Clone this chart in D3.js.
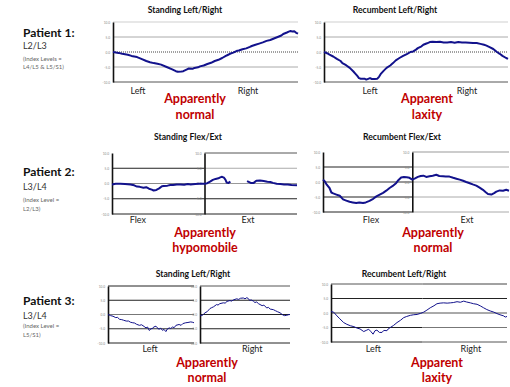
<!DOCTYPE html>
<html>
<head>
<meta charset="utf-8">
<script src="https://cdn.jsdelivr.net/npm/d3@7/dist/d3.min.js"></script>
<style>
  body { margin: 0; background: #fff; }
  svg { display: block; font-family: Lato, "Open Sans", sans-serif; }
</style>
</head>
<body>
<svg id="chart" width="510" height="387"></svg>
<script>
// y ticks shared by every trace plot
const yTicks = [10, 5, 0, -5, -10];
const yTickLabels = ['10.0', '5.0', '0.0', '-5.0', '-10.0'];

// traces: [time %, rotation]
const p1Standing = [[0,0],[3,-0.3],[5,-0.6],[8,-0.9],[10,-1.3],[13,-1.7],[15,-2.2],[18,-3.0],[20,-3.4],[22,-3.7],[24,-3.9],[26,-4.2],[29,-5.0],[32,-5.8],[34,-6.4],[35,-6.6],[37,-6.5],[38,-6.4],[40,-5.8],[41,-5.5],[43,-5.6],[44,-5.3],[46,-5.1],[47,-4.8],[49,-4.5],[51,-4.0],[53,-3.6],[55,-3.0],[57,-2.6],[59,-2.0],[61,-1.3],[62,-1.0],[64,-0.4],[65,-0.2],[67,0.4],[68,0.5],[70,0.9],[72,1.2],[74,1.7],[75,2.0],[77,2.4],[79,2.8],[81,3.2],[83,3.7],[85,4.0],[87,4.5],[89,5.0],[91,5.5],[92,6.0],[94,6.5],[95,6.8],[96,7.0],[97,6.8],[98,6.9],[99,6.4],[100,6.1]];
const p1Recumbent = [[0,0],[2,-0.5],[3,-0.9],[5,-1.5],[7,-2.3],[9,-3.0],[10,-3.7],[12,-4.4],[14,-5.3],[16,-6.5],[17,-7.2],[18,-7.9],[19,-8.7],[20,-8.9],[22,-8.9],[23,-9.2],[25,-8.7],[26,-9.0],[27.5,-9.0],[29,-8.9],[30,-8.2],[31,-7.2],[32.5,-6.2],[34,-5.3],[36,-4.5],[37.5,-3.7],[39,-2.8],[41,-2.0],[43,-1.3],[45,-0.7],[47,0],[48.5,0.2],[50,0.8],[51,1.3],[53,1.9],[54,2.4],[56,2.9],[57.5,3.3],[59,3.4],[61,3.3],[63,3.4],[65,3.2],[67,3.2],[69,3.3],[71,3.1],[73,3.3],[75,3.2],[77,3.2],[79,3.1],[81,3.0],[83,3.0],[85,2.7],[87,2.4],[88,2.2],[90,1.6],[92,1.0],[94,0],[95.5,-0.6],[97,-1.3],[99,-2.0],[100,-2.3]];
const p2Standing = [[0,-0.3],[2,-0.1],[4.5,-0.1],[7,-0.2],[10,-0.3],[12,-0.6],[13.5,-1.0],[15,-1.1],[17,-1.4],[18.5,-1.2],[20,-1.7],[21.5,-2.0],[22.5,-2.3],[24,-2.1],[25.5,-1.6],[27,-0.9],[28,-0.8],[30,-0.7],[31.5,-0.5],[33,-0.5],[35,-0.3],[37,-0.3],[39,-0.4],[41,-0.2],[42.5,-0.3],[45,-0.2],[47,-0.1],[50,-0.1],[51.5,0.1],[53,0.6],[54.5,1.2],[56,1.5],[57.5,1.7],[58.5,2.0],[59.5,2.2],[60.5,1.9],[61.3,1.3],[62,0.3],[63,0.2],[64,0.6],[64.5,null],[72.5,null],[73,0.8],[75,0.2],[76.6,0.2],[78,0.9],[80,1.0],[82,0.8],[84,0.6],[85.6,0.5],[87,0.2],[89,-0.1],[91,-0.2],[93,-0.3],[95,-0.3],[97,-0.5],[100,-0.6]];
const p2Recumbent = [[0,0.8],[1,0.2],[2,-0.9],[3.5,-2.0],[4.5,-3.5],[5.5,-3.8],[7.2,-4.2],[9,-4.6],[10.8,-5.8],[12.5,-6.2],[14.3,-6.6],[16,-6.8],[17.9,-7.0],[19.5,-6.8],[21.5,-7.0],[23,-6.8],[25,-6.3],[27,-5.6],[28.7,-4.8],[30.5,-4.2],[32.3,-3.6],[34,-2.9],[35.8,-2.0],[37.5,-1.3],[39.4,-0.3],[40.5,0.6],[42,1.5],[43.5,1.7],[45,1.6],[46.5,1.4],[48,0.8],[49.5,1.2],[51,1.7],[52.5,2.0],[54,2.1],[55.5,1.7],[57.3,1.9],[59,2.1],[60.9,2.4],[62.5,2.0],[64.5,1.9],[66,1.8],[68,1.8],[70,1.4],[71.7,1.1],[73.5,0.8],[75.3,0.4],[77,0],[78.9,-0.4],[80.5,-0.8],[82.4,-1.2],[84,-1.8],[86,-2.6],[87.5,-3.4],[88.7,-4.0],[90.5,-4.2],[92,-3.7],[93.2,-3.2],[95,-2.8],[96.8,-2.9],[98.5,-2.6],[100,-2.9]];
const p3StandingLeft = [[0,0],[3,-0.4],[5.8,-0.6],[9,-1.1],[11,-1.0],[13.5,-1.7],[16,-1.8],[18,-2.0],[21.2,-2.3],[24,-2.3],[26,-2.7],[28.8,-2.9],[31,-3.0],[33,-3.4],[36.5,-3.8],[39,-3.6],[42,-4.2],[44.2,-4.7],[46,-4.4],[48,-5.6],[50,-5.0],[51.9,-4.9],[53,-4.4],[55.8,-4.1],[57,-4.6],[59.6,-5.2],[61,-4.7],[63.5,-5.6],[65,-5.2],[67.3,-6.0],[69,-5.1],[71.2,-4.7],[73,-4.9],[75,-4.4],[77,-4.6],[79,-3.8],[82.7,-3.5],[85,-3.8],[87,-3.2],[90.4,-2.9],[93,-2.8],[96.2,-2.6],[98,-2.7],[100,-2.9]];
const p3StandingRight = [[0,-0.2],[2,-0.4],[4,0.1],[5.6,0.6],[8,1.0],[11.1,2.1],[13,2.4],[15,2.7],[18.5,3.5],[20,3.3],[22,3.8],[25.9,4.1],[28,4.0],[30,4.6],[33.3,4.9],[35,4.7],[37,5.1],[40.7,5.5],[43,5.3],[45,5.7],[48.1,5.8],[50,5.5],[52,5.9],[53.7,5.6],[55,5.0],[57,5.1],[59.3,4.7],[61,4.2],[63,4.4],[65,3.8],[66.7,3.5],[69,3.1],[71,3.3],[74.1,2.3],[76,2.5],[78,1.9],[81.5,1.7],[84,1.3],[86,1.0],[88.9,0.6],[91,0.1],[92.6,-0.3],[94,-0.4],[96.3,-0.3],[98,-0.1],[100,0]];
const p3Recumbent = [[0,0.5],[1.5,0.3],[3.4,-1.0],[5,-2.0],[7.2,-3.3],[9,-3.9],[11,-4.4],[13,-4.7],[14.8,-5.2],[16.5,-5.5],[18.6,-6.4],[20,-6.0],[21.4,-5.6],[22.5,-6.3],[23.9,-7.3],[25,-6.1],[26.1,-5.9],[27.5,-6.7],[29,-6.7],[30,-6.0],[31.8,-6.1],[32.5,-5.5],[33.7,-5.0],[35.5,-4.3],[37.5,-3.3],[39.5,-2.5],[41.3,-1.6],[43,-1.2],[45.1,-0.8],[47,-0.6],[48.9,-0.5],[51,-0.1],[52.7,0.3],[54.5,1.0],[56.4,1.8],[58.5,2.5],[60.2,3.2],[62,3.4],[64,3.5],[66,3.4],[67.8,3.5],[69.5,3.6],[71.6,3.9],[73.5,3.7],[75.4,4.1],[77,3.8],[79.2,3.5],[81,3.2],[83,3.0],[85,2.4],[86.7,1.8],[88.5,1.2],[90.5,0.7],[92.5,0.3],[94.3,-0.2],[96,-0.6],[98.1,-1.0],[99,-1.4],[100,-1.2]];

const patientNames = ['Patient 1:', 'Patient 2:', 'Patient 3:'];
const patientLevels = ['L2/L3', 'L3/L4', 'L3/L4'];
const patientIndex = [['(Index Levels =', 'L4/L5 & L5/S1)'], ['(Index Level =', 'L2/L3)'], ['(Index Level =', 'L5/S1)']];
const chartTitles = ['Standing Left/Right', 'Recumbent Left/Right', 'Standing Flex/Ext', 'Recumbent Flex/Ext', 'Standing Left/Right', 'Recumbent Left/Right'];
const verdicts = [['Apparently', 'normal'], ['Apparent', 'laxity'], ['Apparently', 'hypomobile'], ['Apparently', 'normal'], ['Apparently', 'normal'], ['Apparent', 'laxity']];

const svg = d3.select('#chart');
const navy = '#12128c';

// one box per trace, grid colours per tick [10,5,0,-5,-10]
const plots = [
  { x0: 113, x1: 298, y0: 22, y1: 82, data: p1Standing, w: 2,
    grid: [{ from: 0, to: 100, c: ['#cfcfcf', '#aaa', 'dot', '#aaa', '#555'] }], splits: [],
    labels: [['Left', 13.5], ['Right', 73]], ly: 94 },
  { x0: 324, x1: 508, y0: 22, y1: 82, data: p1Recumbent, w: 2,
    grid: [{ from: 0, to: 100, c: ['#cfcfcf', '#aaa', 'dot', '#aaa', '#555'] }], splits: [],
    labels: [['Left', 25], ['Right', 77.7]], ly: 94 },
  { x0: 112, x1: 297, y0: 153, y1: 214, data: p2Standing, w: 2,
    grid: [{ from: 0, to: 50, c: [null, '#222', '#8a8a8a', '#222', '#222'] },
           { from: 50, to: 100, c: ['#555', '#aaa', '#999', '#222', '#222'] }], splits: [50],
    labels: [['Flex', 14], ['Ext', 73.5]], ly: 223 },
  { x0: 323, x1: 509, y0: 152, y1: 212, data: p2Recumbent, w: 2,
    grid: [{ from: 0, to: 48, c: [null, '#222', '#333', '#222', '#222'] },
           { from: 48, to: 100, c: ['#999', '#aaa', '#aaa', '#aaa', '#aaa'] }], splits: [48],
    labels: [['Flex', 25.8], ['Ext', 77.4]], ly: 223 },
  { x0: 108, x1: 194, y0: 286, y1: 343, data: p3StandingLeft, w: 1,
    grid: [{ from: 0, to: 100, c: ['#222', '#222', '#777', '#333', '#222'] }], splits: [],
    labels: [['Left', 49]], ly: 352 },
  { x0: 200, x1: 290, y0: 286, y1: 343, data: p3StandingRight, w: 1,
    grid: [{ from: 0, to: 100, c: ['#555', '#222', '#222', '#222', '#222'] }], splits: [],
    labels: [['Right', 58]], ly: 352 },
  { x0: 331, x1: 507, y0: 284, y1: 342, data: p3Recumbent, w: 1,
    grid: [{ from: 0, to: 52, c: ['#555', '#222', '#333', '#222', '#222'] },
           { from: 52, to: 100, c: ['#444', '#222', '#555', '#777', '#555'] }], splits: [],
    labels: [['Left', 24], ['Right', 79.5]], ly: 352 }
];

plots.forEach(p => {
  const x = d3.scaleLinear().domain([0, 100]).range([p.x0, p.x1]);
  const y = d3.scaleLinear().domain([-10, 10]).range([p.y1, p.y0]);
  const g = svg.append('g');

  p.grid.forEach(seg => {
    yTicks.forEach((t, i) => {
      const c = seg.c[i];
      if (!c) return;
      g.append('line')
        .attr('x1', x(seg.from)).attr('x2', x(seg.to))
        .attr('y1', y(t)).attr('y2', y(t))
        .attr('stroke', c === 'dot' ? '#444' : c)
        .attr('stroke-width', c === 'dot' ? 1.2 : 1)
        .attr('stroke-dasharray', c === 'dot' ? '1,1' : null);
    });
  });

  // left axis + any split axes
  [0].concat(p.splits).forEach(s => {
    const ax = g.append('g')
      .attr('transform', `translate(${x(s)},0)`)
      .call(d3.axisLeft(y).tickValues(yTicks).tickSize(0).tickPadding(3)
        .tickFormat((d, i) => yTickLabels[i]));
    ax.select('.domain').attr('stroke', '#111').attr('stroke-width', 1.6);
    ax.selectAll('text').attr('font-size', 3.2).attr('fill', '#888').attr('font-family', 'Lato, sans-serif');
  });

  const line = d3.line()
    .defined(d => d[1] !== null)
    .x(d => x(d[0]))
    .y(d => y(d[1]));

  g.append('path')
    .datum(p.data)
    .attr('fill', 'none')
    .attr('stroke', navy)
    .attr('stroke-width', p.w)
    .attr('stroke-linejoin', 'round')
    .attr('d', line);

  p.labels.forEach(l => {
    g.append('text')
      .attr('x', x(l[1])).attr('y', p.ly)
      .attr('text-anchor', 'middle')
      .attr('font-size', 9).attr('fill', '#222')
      .text(l[0]);
  });
});

// titles and verdicts
const titlePos = [[185, 13], [395, 13], [188, 140], [402, 140], [193, 277], [404, 277]];
const verdictPos = [[195, 103, 119], [427, 103, 119], [205, 237, 252], [433, 237, 252], [207, 367, 382], [437, 367, 382]];

chartTitles.forEach((t, i) => {
  svg.append('text')
    .attr('x', titlePos[i][0]).attr('y', titlePos[i][1])
    .attr('text-anchor', 'middle')
    .attr('font-size', 8.6).attr('font-weight', 'bold').attr('fill', '#111')
    .text(t);
});

verdicts.forEach((v, i) => {
  v.forEach((word, k) => {
    svg.append('text')
      .attr('x', verdictPos[i][0]).attr('y', verdictPos[i][1 + k])
      .attr('text-anchor', 'middle')
      .attr('font-size', 12.5).attr('font-weight', 'bold').attr('fill', '#c00000')
      .text(word);
  });
});

// patient side labels
const patientY = [[37, 49, 61, 69], [176, 190, 202, 211], [305, 319, 328, 337]];
patientNames.forEach((n, i) => {
  const py = patientY[i];
  svg.append('text').attr('x', 23).attr('y', py[0])
    .attr('font-size', 12).attr('font-weight', 'bold').attr('fill', '#111').text(n);
  svg.append('text').attr('x', 23).attr('y', py[1])
    .attr('font-size', 9).attr('fill', '#333').text(patientLevels[i]);
  patientIndex[i].forEach((s, k) => {
    svg.append('text').attr('x', 23).attr('y', py[2 + k])
      .attr('font-size', 6).attr('fill', '#666').text(s);
  });
});
</script>
</body>
</html>
